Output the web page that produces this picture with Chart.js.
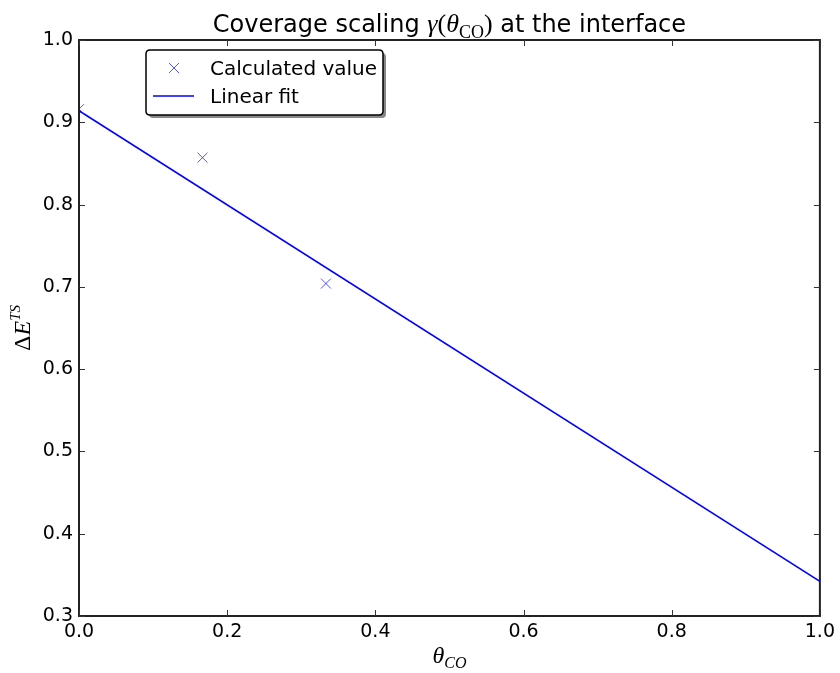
<!DOCTYPE html>
<html>
<head>
<meta charset="utf-8">
<script src="https://cdn.jsdelivr.net/npm/chart.js@4/dist/chart.umd.min.js"></script>
<style>
html,body{margin:0;padding:0;background:#fff;}
#wrap{width:840px;height:673px;position:relative;}
</style>
</head>
<body>
<div id="wrap"><canvas id="c" width="840" height="673"></canvas></div>
<script>
// ---- data ----
const calcX = [0.0, 0.1667, 0.3333];
const calcY = [0.916, 0.857, 0.704];
const fitX = [0.0, 1.0];
const fitY = [0.914, 0.342];
const xTicks = [0.0, 0.2, 0.4, 0.6, 0.8, 1.0];
const yTicks = [0.3, 0.4, 0.5, 0.6, 0.7, 0.8, 0.9, 1.0];
const calcLabel = 'Calculated value';
const fitLabel = 'Linear fit';

const SANS = '"DejaVu Sans", sans-serif';
const SERIF = '"Liberation Serif", "DejaVu Serif", serif';

function drawRich(ctx, segs, x, y, align, baseline) {
  let w = 0;
  segs.forEach(s => { ctx.font = s[1]; w += ctx.measureText(s[0]).width; });
  let cx = align === 'center' ? x - w / 2 : x;
  ctx.textBaseline = baseline || 'alphabetic';
  ctx.textAlign = 'left';
  segs.forEach(s => {
    ctx.font = s[1];
    ctx.fillText(s[0], cx, y + (s[2] || 0));
    cx += ctx.measureText(s[0]).width;
  });
}

const decor = {
  id: 'decor',
  afterDatasetsDraw(chart) {
    const ctx = chart.ctx;
    const a = chart.chartArea;
    const xs = chart.scales.x, ys = chart.scales.y;
    ctx.save();
    ctx.strokeStyle = '#222';
    ctx.lineWidth = 2;
    ctx.strokeRect(a.left, a.top, a.right - a.left, a.bottom - a.top);
    ctx.lineWidth = 1;
    ctx.strokeStyle = '#333';
    const tl = 6;
    xs.ticks.forEach(t => {
      const px = Math.round(xs.getPixelForValue(t.value)) + 0.5;
      ctx.beginPath();
      ctx.moveTo(px, a.bottom); ctx.lineTo(px, a.bottom - tl);
      ctx.moveTo(px, a.top); ctx.lineTo(px, a.top + tl);
      ctx.stroke();
    });
    ys.ticks.forEach(t => {
      const py = Math.round(ys.getPixelForValue(t.value)) + 0.5;
      ctx.beginPath();
      ctx.moveTo(a.left, py); ctx.lineTo(a.left + tl, py);
      ctx.moveTo(a.right, py); ctx.lineTo(a.right - tl, py);
      ctx.stroke();
    });
    ctx.fillStyle = '#000';
    const cxm = (a.left + a.right) / 2;
    drawRich(ctx, [
      ['Coverage scaling ', '24px ' + SANS],
      ['\u03B3', 'italic 26px ' + SERIF],
      ['(', '26px ' + SERIF],
      ['\u03B8', 'italic 26px ' + SERIF],
      ['CO', '18px ' + SERIF, 6],
      [')', '26px ' + SERIF],
      [' at the interface', '24px ' + SANS]
    ], cxm, 32, 'center');
    drawRich(ctx, [
      ['\u03B8', 'italic 24px ' + SERIF],
      ['CO', 'italic 16px ' + SERIF, 5]
    ], cxm, 663, 'center');
    ctx.save();
    ctx.translate(30, (a.top + a.bottom) / 2);
    ctx.rotate(-Math.PI / 2);
    drawRich(ctx, [
      ['\u0394', '24px ' + SERIF],
      ['E', 'italic 24px ' + SERIF],
      ['TS', 'italic 15px ' + SERIF, -10]
    ], 0, 0, 'center');
    ctx.restore();
    // legend
    const ds = chart.data.datasets;
    const bx = 146, by = 50, bw = 237, bh = 65;
    ctx.fillStyle = '#888';
    roundRect(ctx, bx + 3, by + 3, bw, bh, 4); ctx.fill();
    ctx.fillStyle = '#fff';
    roundRect(ctx, bx, by, bw, bh, 4); ctx.fill();
    ctx.strokeStyle = '#000'; ctx.lineWidth = 1.5;
    roundRect(ctx, bx, by, bw, bh, 4); ctx.stroke();
    ctx.strokeStyle = ds[0].borderColor; ctx.lineWidth = 1;
    const mx = 174, my = 68, r = 5;
    ctx.beginPath();
    ctx.moveTo(mx - r, my - r); ctx.lineTo(mx + r, my + r);
    ctx.moveTo(mx - r, my + r); ctx.lineTo(mx + r, my - r);
    ctx.stroke();
    ctx.strokeStyle = ds[1].borderColor; ctx.lineWidth = 1.6;
    ctx.beginPath(); ctx.moveTo(153, 96); ctx.lineTo(194, 96); ctx.stroke();
    ctx.fillStyle = '#000';
    ctx.font = '20px ' + SANS; ctx.textAlign = 'left'; ctx.textBaseline = 'alphabetic';
    ctx.fillText(ds[0].label, 210, 75);
    ctx.fillText(ds[1].label, 210, 103);
    ctx.restore();
  }
};
function roundRect(ctx, x, y, w, h, r) {
  ctx.beginPath();
  ctx.moveTo(x + r, y);
  ctx.lineTo(x + w - r, y); ctx.quadraticCurveTo(x + w, y, x + w, y + r);
  ctx.lineTo(x + w, y + h - r); ctx.quadraticCurveTo(x + w, y + h, x + w - r, y + h);
  ctx.lineTo(x + r, y + h); ctx.quadraticCurveTo(x, y + h, x, y + h - r);
  ctx.lineTo(x, y + r); ctx.quadraticCurveTo(x, y, x + r, y);
  ctx.closePath();
}

new Chart(document.getElementById('c'), {
  type: 'scatter',
  data: {
    datasets: [
      {
        label: calcLabel,
        data: calcX.map((x, i) => ({ x: x, y: calcY[i] })),
        showLine: false,
        pointStyle: 'crossRot',
        pointRadius: 7,
        borderColor: 'rgba(40,40,255,0.8)',
        backgroundColor: 'rgba(40,40,255,0.8)',
        borderWidth: 1
      },
      {
        label: fitLabel,
        data: fitX.map((x, i) => ({ x: x, y: fitY[i] })),
        showLine: true,
        pointRadius: 0,
        borderColor: '#0000ff',
        borderWidth: 1.6,
        fill: false
      }
    ]
  },
  plugins: [decor],
  options: {
    responsive: false,
    animation: false,
    devicePixelRatio: 1,
    layout: { padding: { top: 40, right: 19, left: 0, bottom: 0 } },
    plugins: { legend: { display: false }, title: { display: false }, tooltip: { enabled: false } },
    scales: {
      x: {
        type: 'linear', min: 0, max: 1,
        afterBuildTicks: s => { s.ticks = xTicks.map(v => ({ value: v })); },
        afterFit: s => { s.height = 57; },
        grid: { display: false, drawTicks: false },
        border: { display: false },
        ticks: { padding: 5, color: '#000', font: { family: SANS, size: 19 }, callback: v => Number(v).toFixed(1), maxRotation: 0 }
      },
      y: {
        type: 'linear', min: 0.3, max: 1.0,
        afterBuildTicks: s => { s.ticks = yTicks.map(v => ({ value: v })); },
        afterFit: s => { s.width = 79; },
        grid: { display: false, drawTicks: false },
        border: { display: false },
        ticks: { padding: 6, color: '#000', font: { family: SANS, size: 19 }, callback: v => Number(v).toFixed(1) }
      }
    }
  }
});
</script>
</body>
</html>
